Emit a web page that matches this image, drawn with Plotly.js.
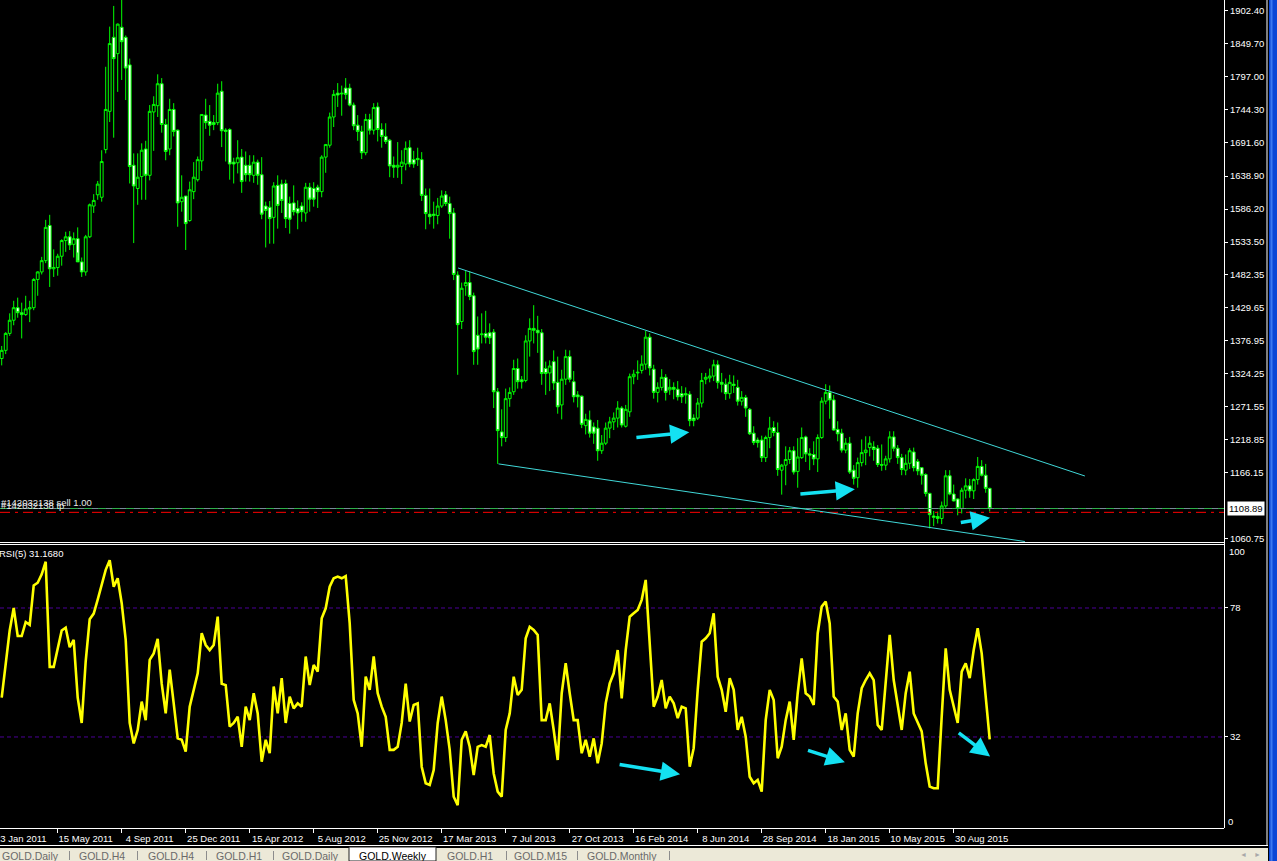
<!DOCTYPE html>
<html><head><meta charset="utf-8">
<script src="https://cdn.plot.ly/plotly-3.0.1.min.js"></script>
<style>html,body{margin:0;padding:0;background:#000;overflow:hidden}#chart{width:1277px;height:861px}</style>
</head><body><div id="chart"></div>
<script>
// ---------------- DATA ----------------
const firstBarDate = '2011-02-06'; // weekly bars, one per week
const opens = [1348,1361,1388,1409,1429,1421,1418,1427,1429,1474,1486,1504,1560,1491,1493,1511,1536,1542,1530,1539,
1502,1486,1542,1591,1609,1605,1681,1742,1860,1834,1876,1860,1816,1656,1619,1638,1682,1640,1741,1751,
1786,1721,1682,1745,1712,1598,1607,1568,1614,1633,1663,1736,1726,1724,1724,1774,1712,1713,1661,1660,
1669,1656,1656,1640,1661,1641,1591,1589,1573,1624,1626,1627,1595,1596,1587,1591,1580,1621,1619,1621,
1614,1669,1688,1733,1771,1771,1779,1779,1752,1720,1710,1676,1729,1712,1749,1713,1702,1696,1656,1653,
1654,1658,1684,1665,1667,1665,1608,1578,1578,1576,1591,1609,1595,1580,1481,1407,1464,1469,1448,1385,
1386,1388,1389,1390,1295,1231,1222,1284,1295,1332,1314,1313,1376,1396,1393,1389,1332,1325,1343,1310,
1274,1315,1351,1311,1290,1288,1241,1250,1239,1237,1201,1213,1237,1247,1253,1269,1240,1263,1319,1325,
1329,1339,1382,1331,1294,1302,1318,1298,1302,1299,1292,1292,1291,1253,1253,1277,1315,1317,1320,1338,
1310,1307,1292,1307,1302,1280,1286,1267,1229,1218,1218,1190,1222,1238,1230,1170,1178,1187,1201,1168,
1190,1223,1196,1195,1188,1222,1280,1294,1282,1235,1229,1202,1213,1170,1158,1182,1198,1206,1207,1205,
1179,1178,1188,1223,1205,1190,1170,1181,1199,1184,1174,1163,1133,1097,1096,1093,1113,1161,1132,1124,
1109,1138,1145,1137,1155,1176,1162,1141];
const highs = [1368,1390,1420,1440,1445,1437,1448,1440,1476,1487,1510,1569,1577,1522,1515,1538,1550,1551,1549,1557,
1509,1545,1595,1610,1631,1680,1813,1877,1910,1882,1920,1863,1826,1675,1675,1691,1695,1752,1766,1801,
1795,1730,1762,1755,1713,1640,1607,1630,1661,1670,1737,1762,1752,1736,1786,1790,1715,1715,1668,1696,
1682,1678,1672,1672,1665,1669,1598,1599,1629,1640,1633,1633,1606,1624,1600,1597,1628,1628,1629,1625,
1672,1690,1740,1776,1787,1783,1795,1786,1756,1736,1719,1738,1738,1755,1756,1723,1723,1698,1670,1693,
1680,1694,1696,1679,1684,1677,1619,1619,1598,1604,1616,1615,1606,1588,1487,1469,1488,1487,1453,1415,
1420,1424,1404,1395,1301,1267,1300,1302,1346,1348,1320,1385,1412,1433,1416,1395,1343,1345,1361,1351,
1330,1362,1361,1328,1296,1289,1260,1265,1246,1250,1226,1246,1255,1262,1280,1272,1274,1324,1330,1345,
1353,1392,1388,1338,1310,1331,1323,1315,1310,1312,1304,1302,1296,1259,1285,1325,1325,1332,1346,1345,
1325,1316,1322,1321,1314,1296,1290,1269,1240,1222,1225,1225,1255,1248,1246,1180,1208,1207,1208,1221,
1238,1225,1205,1216,1227,1286,1307,1305,1290,1248,1236,1221,1223,1178,1190,1219,1224,1224,1216,1210,
1211,1193,1232,1232,1210,1196,1195,1205,1206,1188,1175,1165,1134,1105,1104,1120,1170,1170,1147,1125,
1142,1157,1156,1157,1191,1186,1180,1142];
const lows = [1337,1355,1384,1401,1413,1380,1416,1406,1425,1448,1482,1500,1462,1478,1480,1496,1518,1521,1509,1517,
1478,1480,1540,1580,1601,1598,1675,1725,1700,1773,1792,1760,1627,1532,1593,1601,1601,1632,1679,1733,
1708,1664,1672,1702,1558,1582,1521,1566,1602,1630,1647,1714,1703,1712,1720,1685,1662,1633,1627,1643,
1612,1630,1630,1628,1625,1570,1525,1531,1531,1555,1580,1556,1547,1576,1554,1566,1566,1582,1590,1588,
1605,1644,1684,1717,1749,1735,1761,1750,1712,1695,1666,1672,1705,1705,1694,1684,1690,1637,1636,1636,
1626,1648,1653,1652,1655,1599,1554,1562,1555,1562,1588,1591,1539,1473,1322,1395,1448,1441,1338,1338,
1372,1372,1371,1269,1180,1208,1215,1271,1290,1300,1300,1310,1351,1372,1357,1306,1290,1296,1298,1260,
1251,1306,1310,1278,1270,1237,1227,1222,1212,1185,1196,1210,1221,1234,1238,1238,1238,1255,1307,1314,
1324,1330,1321,1284,1278,1297,1281,1290,1283,1281,1277,1276,1240,1240,1250,1270,1307,1310,1312,1300,
1294,1282,1284,1293,1273,1273,1255,1226,1210,1206,1183,1183,1205,1224,1161,1131,1146,1180,1163,1142,
1188,1183,1170,1178,1167,1220,1275,1252,1233,1216,1198,1197,1164,1147,1142,1176,1178,1192,1185,1175,
1169,1170,1182,1200,1180,1162,1162,1172,1168,1162,1147,1128,1077,1081,1085,1084,1110,1130,1120,1098,
1101,1125,1126,1124,1147,1160,1134,1104];
const closes = [1361,1388,1409,1429,1421,1418,1427,1429,1474,1486,1504,1557,1491,1493,1511,1536,1542,1529,1539,1502,
1486,1542,1593,1600,1626,1662,1745,1850,1826,1881,1853,1811,1654,1623,1637,1680,1640,1742,1753,1786,
1721,1678,1745,1710,1596,1605,1563,1617,1637,1665,1737,1724,1720,1721,1771,1711,1710,1658,1658,1668,
1630,1641,1641,1661,1640,1578,1584,1571,1623,1592,1600,1571,1570,1582,1580,1582,1621,1602,1602,1614,
1669,1689,1733,1769,1768,1770,1769,1752,1719,1710,1676,1729,1712,1748,1713,1702,1694,1655,1653,1656,
1661,1683,1658,1658,1665,1608,1579,1574,1576,1591,1607,1595,1579,1482,1402,1460,1469,1447,1359,1363,
1387,1382,1381,1295,1233,1222,1284,1294,1332,1311,1311,1376,1396,1393,1389,1324,1324,1336,1309,1271,
1315,1351,1315,1287,1287,1243,1251,1229,1229,1201,1213,1237,1247,1253,1269,1242,1267,1319,1323,1326,
1339,1382,1333,1294,1302,1318,1294,1302,1299,1287,1287,1290,1249,1249,1277,1313,1318,1320,1338,1310,
1307,1292,1310,1305,1280,1286,1269,1228,1214,1214,1190,1222,1237,1230,1171,1178,1187,1201,1167,1191,
1222,1196,1194,1188,1222,1280,1294,1282,1234,1228,1202,1213,1167,1157,1182,1198,1202,1213,1203,1179,
1178,1188,1223,1205,1190,1171,1181,1201,1174,1169,1162,1133,1099,1095,1093,1113,1161,1132,1121,1109,
1138,1145,1137,1155,1176,1162,1141,1108.89];
const rsi5 = [46,57,70,78,68,68,73,72,86,87,90,94.5,57,57,64,70,71,64,66.6,46,
37,59,74,76,81,86.8,91.6,95,85.6,88.6,79.7,66.6,37,29.7,34.5,44.6,38,59.5,61.8,67,
51,40.4,56,44,31.5,31,26.8,42.8,48.8,54.7,69,64.8,63,64.8,74.9,51,50.5,35.7,37,39.2,
28.5,42.8,38,47.6,40.4,23.2,31,26.2,50,40.4,53,37,46.4,42.2,44,42.8,60.7,50.5,57.7,55.3,
74.3,77.9,85.6,88.6,89.2,88.6,89.4,72.5,45.2,40.4,28.5,53.5,48.8,60.7,47.6,42.8,39.2,27.4,27.4,28.5,
37,51,37.5,43.4,44,21.4,15.5,14.9,20.2,37,46.4,38,27.4,10.7,7.7,31,34,28.5,18.4,28.5,
29.1,28.5,32.7,19,12.5,10.7,34.5,40.4,53.5,47,48.8,67.2,71.3,70.2,68.4,38,38,44,34.5,23.8,
47.6,58.3,47.6,38,38,26.2,31,25,31.5,22.6,29.7,44,51.1,54.7,63,45.8,63,74.9,76.1,77.3,
80.9,88,65.4,42.8,46.4,52.3,42.2,46.4,44,38.7,42.8,42.2,21.4,28,48.8,66,67.2,69,76.1,53.5,
48.8,41,53,48.8,34.5,39.2,32.1,17.8,15.5,16.7,12.5,38,48.8,45.2,24.4,28.5,38,44.6,31,47.6,
60,47.6,46.4,43.4,69,78.5,80.3,72.5,46.4,44.6,34.5,40.4,27.4,25,40.4,49.4,52.3,54.7,52.3,36.3,
34.5,51.1,68.4,52.3,44,34.5,47.6,55.3,40.4,37,34,22.6,14.3,13.7,13.7,39.2,63.6,48.8,42.8,37,
55.3,58.3,53,63,70.8,61.8,46.4,31.168];
const priceTickVals = [1902.40,1849.70,1797.00,1744.30,1691.60,1638.90,1586.20,1533.50,1482.35,1429.65,1376.95,1324.25,1271.55,1218.85,1166.15,1060.75];
const rsiLevels = [78, 32];
const xTickDates = ['2011-05-15','2011-09-04','2011-12-25','2012-04-15','2012-08-05','2012-11-25','2013-03-17','2013-07-07','2013-10-27','2014-02-16','2014-06-08','2014-09-28','2015-01-18','2015-05-10','2015-08-30'];
const xTickLabels = ['15 May 2011','4 Sep 2011','25 Dec 2011','15 Apr 2012','5 Aug 2012','25 Nov 2012','17 Mar 2013','7 Jul 2013','27 Oct 2013','16 Feb 2014','8 Jun 2014','28 Sep 2014','18 Jan 2015','10 May 2015','30 Aug 2015'];
const firstCutLabel = '23 Jan 2011';
const bidPrice = 1108.89;
const stopPrice = 1102.8;
const orderTexts = ['#142032138 sell 1.00', '#142032138 tp'];
const rsiTitle = 'RSI(5) 31.1680';
const tabNames = ['GOLD.Daily','GOLD.H4','GOLD.H4','GOLD.H1','GOLD.Daily','GOLD.Weekly','GOLD.H1','GOLD.M15','GOLD.Monthly'];
const activeTab = 5;
// drawn objects anchored at [bar index, price] pairs
const trendLines = [[114.1,1492.3,270.8,1160.7],[124.2,1180.0,255.8,1056.3]];
const priceArrows = [[158.3,1221.8,171.9,1230.4],[199.3,1132.0,213.3,1139.5],[239.4,1086.3,247.1,1094.2]];
const rsiArrows = [[154.1,22.3,169.6,18.7],[201.2,27.4,210.8,23.0],[238.9,33.9,247.1,25.0]];

// ---------------- LAYOUT HELPERS ----------------
const W = 1277, H = 861, PW = 1224, PH = 828;
const FONT = '"Liberation Sans", Arial, sans-serif';
const WEEK = 7 * 86400000;
const t0 = Date.parse(firstBarDate + 'T00:00:00Z');
const barDate = i => new Date(t0 + i * WEEK).toISOString().replace('T', ' ').replace('Z', '');
const dates = closes.map((_, i) => barDate(i));
const px = x => x / PW;
const py = y => (PH - y) / PH;

const traces = [
  {type: 'candlestick', x: dates, open: opens, high: highs, low: lows, close: closes,
   xaxis: 'x', yaxis: 'y', whiskerwidth: 0, hoverinfo: 'skip', showlegend: false,
   increasing: {line: {color: '#00FF00', width: 1}, fillcolor: '#000000'},
   decreasing: {line: {color: '#00FF00', width: 1}, fillcolor: '#FFFFFF'}},
  {type: 'scatter', mode: 'lines', x: dates, y: rsi5, xaxis: 'x', yaxis: 'y2',
   line: {color: '#FFFF00', width: 2.6}, hoverinfo: 'skip', showlegend: false}
];

const shapes = [];
rsiLevels.forEach(v => shapes.push({type: 'line', xref: 'paper', x0: 0, x1: 1, yref: 'y2', y0: v, y1: v,
  line: {color: '#4B0096', width: 1, dash: '4px,3px'}, layer: 'below'}));
// pane separators
shapes.push({type: 'line', xref: 'paper', x0: 0, x1: 1, yref: 'paper', y0: py(542.5), y1: py(542.5), line: {color: '#FFFFFF', width: 1}});
shapes.push({type: 'line', xref: 'paper', x0: 0, x1: 1, yref: 'paper', y0: py(544.5), y1: py(544.5), line: {color: '#FFFFFF', width: 1}});
shapes.push({type: 'line', xref: 'paper', x0: px(1224.5), x1: px(1224.5), yref: 'paper', y0: py(0), y1: py(828), line: {color: '#FFFFFF', width: 1}});
// order / bid lines
shapes.push({type: 'line', xref: 'paper', x0: 0, x1: 1, yref: 'y', y0: bidPrice, y1: bidPrice, line: {color: '#778899', width: 1}});
shapes.push({type: 'line', xref: 'paper', x0: 0, x1: 1, yref: 'y', y0: bidPrice, y1: bidPrice, line: {color: '#2EAF4A', width: 1, dash: '8px,6px'}});
shapes.push({type: 'line', xref: 'paper', x0: 0, x1: 1, yref: 'y', y0: stopPrice, y1: stopPrice, line: {color: '#FF0000', width: 1, dash: '10px,5px,3px,5px'}});
// trend lines
trendLines.forEach(t => shapes.push({type: 'line', xref: 'x', yref: 'y', x0: barDate(t[0]), y0: t[1], x1: barDate(t[2]), y1: t[3],
  line: {color: '#40D8D8', width: 1}}));
// window chrome: tab bar, frame
shapes.push({type: 'rect', xref: 'paper', yref: 'paper', x0: 0, x1: px(1268), y0: py(848), y1: py(861), fillcolor: '#ECE9D8', line: {width: 0}});
shapes.push({type: 'line', xref: 'paper', yref: 'paper', x0: 0, x1: px(1268), y0: py(845.5), y1: py(845.5), line: {color: '#FFFFFF', width: 1}});
shapes.push({type: 'rect', xref: 'paper', yref: 'paper', x0: px(349), x1: px(436), y0: py(847), y1: py(861), fillcolor: '#FFFFFF', line: {color: '#222222', width: 1}});
[69, 137, 206, 273, 506, 577, 669].forEach(x => shapes.push({type: 'line', xref: 'paper', yref: 'paper',
  x0: px(x + 0.5), x1: px(x + 0.5), y0: py(851), y1: py(860), line: {color: '#8C8C8C', width: 1}}));
shapes.push({type: 'line', xref: 'paper', yref: 'paper', x0: px(1267), x1: px(1267), y0: py(0), y1: py(846), line: {color: '#FFFFFF', width: 1}});
shapes.push({type: 'rect', xref: 'paper', yref: 'paper', x0: px(1269), x1: px(1278), y0: py(-1), y1: py(862), fillcolor: '#0B46D6', line: {width: 0}});
shapes.push({type: 'line', xref: 'paper', yref: 'paper', x0: px(1271.5), x1: px(1271.5), y0: py(-1), y1: py(862), line: {color: '#3C78F0', width: 2}});

const annotations = [];
const txt = (text, x, y, opts) => Object.assign({text, x, y, xref: 'paper', yref: 'paper', showarrow: false,
  xanchor: 'left', yanchor: 'middle', borderpad: 0, font: {family: FONT, size: 9.5, color: '#FFFFFF'}}, opts || {});
priceArrows.forEach(a => annotations.push({x: barDate(a[2]), y: a[3], ax: barDate(a[0]), ay: a[1], xref: 'x', yref: 'y',
  axref: 'x', ayref: 'y', text: '', showarrow: true, arrowhead: 2, arrowsize: 1.1, arrowwidth: 3.5, arrowcolor: '#14E1F2', standoff: 0}));
rsiArrows.forEach(a => annotations.push({x: barDate(a[2]), y: a[3], ax: barDate(a[0]), ay: a[1], xref: 'x', yref: 'y2',
  axref: 'x', ayref: 'y2', text: '', showarrow: true, arrowhead: 2, arrowsize: 1.1, arrowwidth: 3.5, arrowcolor: '#14E1F2', standoff: 0}));
annotations.push(txt(firstCutLabel, px(-6), py(838)));
annotations.push(txt(rsiTitle, px(-2), py(553)));
annotations.push(txt(orderTexts[0], px(0), bidPrice, {yref: 'y', yshift: 6, font: {family: FONT, size: 9.5, color: '#E6E6E6'}}));
annotations.push(txt(orderTexts[1], px(0), bidPrice, {yref: 'y', yshift: 3, font: {family: FONT, size: 9.5, color: '#E6E6E6'}}));
annotations.push(txt(bidPrice.toFixed(2), px(1227), bidPrice, {yref: 'y', bgcolor: '#FFFFFF', borderpad: 1,
  font: {family: FONT, size: 9.5, color: '#000000'}}));
annotations.push(txt('100', px(1228), py(551)));
annotations.push(txt('0', px(1227), py(821.5)));
const tabCenters = [30, 102, 171, 239, 310, 393, 470, 540, 622];
tabNames.forEach((n, i) => annotations.push(txt(n, px(tabCenters[i]), py(855.5), {xanchor: 'center',
  font: {family: FONT, size: 10.5, color: i === activeTab ? '#000000' : '#6A6A6A'}})));
annotations.push(txt('\u25C4', px(1243), py(855), {xanchor: 'center', font: {family: FONT, size: 7, color: '#A8A8A8'}}));
annotations.push(txt('\u25BA', px(1258), py(855), {xanchor: 'center', font: {family: FONT, size: 7, color: '#A8A8A8'}}));

const axFont = {family: FONT, size: 9.5, color: '#FFFFFF'};
const layout = {
  width: W, height: H, paper_bgcolor: '#000000', plot_bgcolor: '#000000',
  margin: {l: 0, r: W - PW, t: 0, b: H - PH, pad: 0}, showlegend: false, boxgap: 0.3, boxgroupgap: 0,
  xaxis: {type: 'date', domain: [0, 1], anchor: 'y2', range: [barDate(-0.425), barDate(305.575)],
    rangeslider: {visible: false}, showgrid: false, zeroline: false, showline: true, linecolor: '#FFFFFF', linewidth: 1,
    tickmode: 'array', tickvals: xTickDates, ticktext: xTickLabels, ticks: 'outside', ticklen: 4, tickcolor: '#FFFFFF',
    tickfont: axFont, tickangle: 0, ticklabelshift: 28, ticklabelstandoff: -2, fixedrange: true},
  yaxis: {domain: [py(542), 1], anchor: 'x', side: 'right', range: [1055.5, 1919.46], showgrid: false, zeroline: false,
    showline: false, tickmode: 'array', tickvals: priceTickVals, ticktext: priceTickVals.map(v => v.toFixed(2)),
    ticks: 'outside', ticklen: 3, tickcolor: '#FFFFFF', tickfont: axFont, fixedrange: true},
  yaxis2: {domain: [0, py(544)], anchor: 'x', side: 'right', range: [-0.464, 100.82], showgrid: false, zeroline: false,
    showline: false, tickmode: 'array', tickvals: rsiLevels, ticktext: rsiLevels.map(String),
    ticks: 'outside', ticklen: 3, tickcolor: '#FFFFFF', tickfont: axFont, fixedrange: true},
  shapes, annotations
};
Plotly.newPlot('chart', traces, layout, {staticPlot: true, displayModeBar: false});
</script></body></html>
